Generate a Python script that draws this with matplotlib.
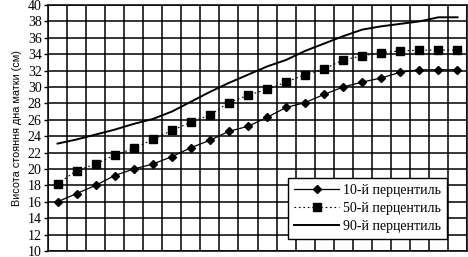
import matplotlib
matplotlib.use("Agg")
import matplotlib.pyplot as plt
import numpy as np

# Fundal height percentiles (cm), one value per category column
p10 = [16.0, 17.0, 18.0, 19.2, 20.0, 20.6, 21.5, 22.6, 23.5, 24.6, 25.2,
       26.3, 27.5, 28.1, 29.1, 30.0, 30.6, 31.1, 31.8, 32.1, 32.1, 32.1]
p50 = [18.2, 19.8, 20.6, 21.7, 22.5, 23.6, 24.7, 25.7, 26.6, 28.1, 29.0,
       29.7, 30.6, 31.5, 32.2, 33.3, 33.8, 34.2, 34.4, 34.5, 34.5, 34.5]
p90 = [23.1, 23.6, 24.2, 24.8, 25.5, 26.1, 27.0, 28.2, 29.4, 30.5, 31.5,
       32.5, 33.3, 34.4, 35.3, 36.2, 37.0, 37.4, 37.7, 38.0, 38.5, 38.5]
labels = ["10-й перцентиль", "50-й перцентиль", "90-й перцентиль"]
y_ticks = list(range(10, 41, 2))

serif = "Liberation Serif"
x = np.arange(len(p10))

fig = plt.figure(figsize=(4.68, 2.57), dpi=100)
ax = fig.add_axes([48 / 468, 1 - 251 / 257, 419 / 468, 246 / 257])

ax.plot(x, p10, color="black", lw=0.9, marker="D", ms=4.2, label=labels[0], zorder=4)
ax.plot(x, p50, color="black", lw=0.8, ls=(0, (1.5, 2.5)), marker="s", ms=5.5,
        label=labels[1], zorder=4)
ax.plot(x, p90, color="black", lw=1.4, label=labels[2], zorder=4)

ax.set_xlim(-0.5, len(x) - 0.5)
ax.set_ylim(10, 40)
ax.set_yticks(y_ticks)
ax.set_xticks(np.arange(-0.5, len(x), 1.0))
ax.tick_params(axis="x", length=0, labelbottom=False)
ax.tick_params(axis="y", length=3, width=1, pad=1.5)
for t in ax.get_yticklabels():
    t.set_fontfamily(serif)
    t.set_fontsize(10)

ax.grid(True, color="black", lw=1.1)
ax.set_axisbelow(True)
for s in ax.spines.values():
    s.set_color("black")
    s.set_linewidth(1.1)

ax.set_ylabel("Висота стояння дна матки (см)", fontsize=7.8,
              family="Liberation Sans", labelpad=4)

leg = ax.legend(loc="upper left", bbox_to_anchor=(0.573, 0.297), borderaxespad=0,
                prop={"family": serif, "size": 10}, handlelength=3.2,
                handletextpad=0.3, labelspacing=0.35, borderpad=0.45,
                fancybox=False, framealpha=1, edgecolor="black")
leg.get_frame().set_linewidth(1.0)

fig.savefig("out.png", dpi=100)
plt.close(fig)
